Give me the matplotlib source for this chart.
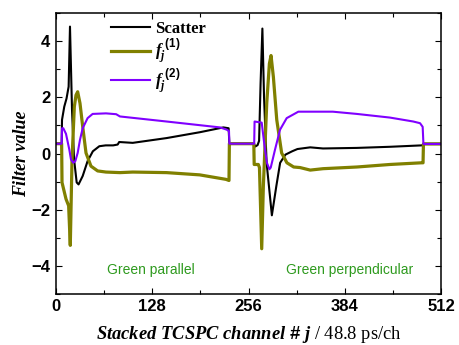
import matplotlib
matplotlib.use("Agg")
import matplotlib.pyplot as plt
from matplotlib.ticker import MultipleLocator

plt.rcParams['mathtext.fontset'] = 'custom'
plt.rcParams['mathtext.it'] = 'Liberation Serif:italic:bold'
plt.rcParams['mathtext.rm'] = 'Liberation Sans:bold'
plt.rcParams['mathtext.bf'] = 'Liberation Sans:bold'

# Scatter pattern (black)
scatter_ch = [0, 7.5, 8, 11, 14, 16.8, 18.6, 21.3, 24, 27.5, 30, 35.5, 42, 49, 57.6,
              66, 76, 82, 84, 102, 147, 191.5, 222.5, 229.5, 230.5, 263, 265, 268,
              270, 272, 274.4, 276.6, 280, 287, 293, 298, 305, 314, 321, 338, 355,
              400, 444, 486, 488, 488.5, 512]
scatter_val = [0.35, 0.35, 1.2, 1.67, 1.96, 2.38, 4.52, 1.55, -0.2, -1.03, -1.1, -0.8,
               -0.27, 0.08, 0.26, 0.29, 0.29, 0.32, 0.41, 0.38, 0.55, 0.76, 0.93, 0.9,
               0.35, 0.35, 0.25, 0.3, 0.45, 2.5, 4.45, 2.0, -0.33, -2.2, -1.15, -0.33,
               -0.04, 0.08, 0.16, 0.22, 0.18, 0.2, 0.24, 0.29, 0.3, 0.35, 0.35]

# Filter f_j^(1) (olive)
f1_ch = [0, 7.5, 8, 13.3, 16.8, 19, 21.3, 24.4, 26.6, 28.8, 31.9, 35.5, 39.9, 46.5,
         55.4, 66.5, 85, 102, 147, 191, 226, 230, 230.5, 263, 263.5, 269, 270.5,
         273.5, 275.7, 280.2, 283.7, 285.9, 289, 293.5, 300, 307, 316, 324.5, 338,
         355, 400, 444, 486, 488, 488.5, 512]
f1_val = [0.35, 0.35, -1.03, -1.62, -1.86, -3.27, -0.21, 1.67, 2.08, 2.2, 1.79, 0.96,
          0.02, -0.45, -0.62, -0.66, -0.68, -0.66, -0.68, -0.76, -0.92, -0.96, 0.35,
          0.35, -0.39, -0.39, -0.5, -3.39, -1.15, 1.79, 3.2, 3.49, 2.73, 1.2, 0.02,
          -0.33, -0.48, -0.5, -0.59, -0.54, -0.48, -0.39, -0.33, -0.33, 0.34, 0.34]

# Filter f_j^(2) (violet)
f2_ch = [0, 7.5, 8, 9.7, 13.3, 17.7, 19.9, 23, 25.7, 28.8, 31.9, 35.5, 42, 48.7, 66.5,
         80, 85, 147, 218, 227, 230, 230.5, 263.5, 264, 273.5, 277.3, 280.4, 283.7,
         285.5, 288.1, 291.2, 297.9, 306.7, 322.2, 368, 400, 444, 475, 484, 487.5,
         488.5, 512]
f2_val = [0.35, 0.35, 0.9, 0.9, 0.7, 0.14, -0.21, -0.33, -0.27, 0.02, 0.49, 0.9, 1.26,
          1.41, 1.43, 1.4, 1.32, 1.14, 0.93, 0.85, 0.8, 0.35, 0.35, 1.14, 1.1, 0.26,
          -0.33, -0.56, -0.5, -0.21, 0.14, 0.85, 1.26, 1.49, 1.49, 1.41, 1.28, 1.14,
          1.08, 0.95, 0.34, 0.34]

x_ticks = [0, 128, 256, 384, 512]
y_ticks = [-4, -2, 0, 2, 4]
block_labels = ["Green parallel", "Green perpendicular"]
block_label_x = [126, 390]

fig = plt.figure(figsize=(4.59, 3.45), dpi=100)
ax = fig.add_axes([0.122, 0.148, 0.839, 0.814])

ax.plot(scatter_ch, scatter_val, color='black', lw=1.5, label='Scatter')
ax.plot(f1_ch, f1_val, color='#808000', lw=2.3, label=r'$f_j^{\ (1)}$')
ax.plot(f2_ch, f2_val, color='#8000ff', lw=1.5, label=r'$f_j^{\ (2)}$')

ax.set_xlim(0, 512)
ax.set_ylim(-5, 5)
ax.set_xticks(x_ticks)
ax.set_yticks(y_ticks)
ax.xaxis.set_minor_locator(MultipleLocator(64))
ax.yaxis.set_minor_locator(MultipleLocator(1))
ax.tick_params(which='both', direction='in', top=True, right=True, width=0.8)
ax.tick_params(which='major', length=4.5, pad=4)
ax.tick_params(which='minor', length=2.8)
for lab in ax.get_xticklabels() + ax.get_yticklabels():
    lab.set_fontfamily('Liberation Sans')
    lab.set_fontweight('bold')
    lab.set_fontsize(12)
for sp in ax.spines.values():
    sp.set_linewidth(1.1)

ax.set_xlabel(r'$Stacked\ TCSPC\ channel\ \#\ j$ / 48.8 ps/ch',
              fontfamily='Liberation Serif', fontsize=13.3, labelpad=7)
ax.set_ylabel('Filter value', fontfamily='Liberation Serif', fontsize=13,
              fontweight='bold', fontstyle='italic', labelpad=1)

for name, xc in zip(block_labels, block_label_x):
    ax.text(xc, -4.13, name, color='#2e9a1e', fontsize=10, fontfamily='Liberation Sans',
            ha='center', va='center')

leg = ax.legend(loc='upper left', bbox_to_anchor=(0.105, 1.025), frameon=False,
                handlelength=2.3, handletextpad=0.3, labelspacing=0.0,
                prop={'family': 'Liberation Serif', 'weight': 'bold', 'size': 12})

fig.savefig('out.png', dpi=100)
